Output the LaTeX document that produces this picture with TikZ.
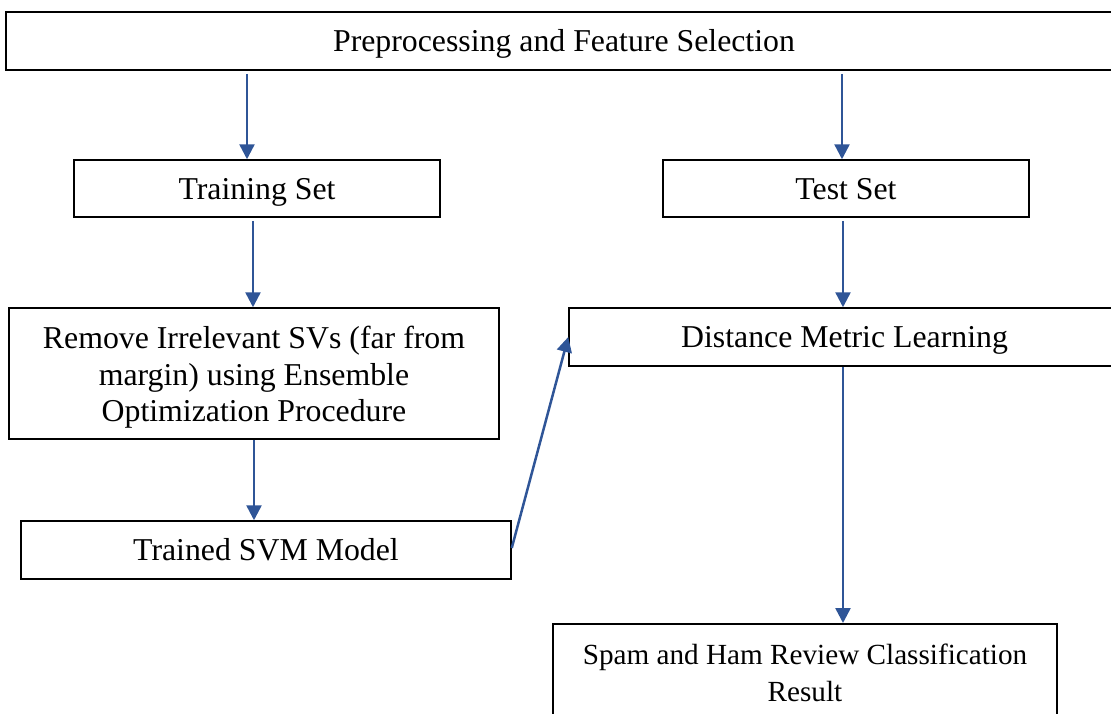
\documentclass[tikz,border=0pt]{standalone}
\usepackage{fontspec}
\setmainfont{Liberation Serif}
\usepackage{tikz}
\usetikzlibrary{arrows.meta,calc}
\definecolor{arrowblue}{RGB}{47,85,151}

\begin{document}
\begin{tikzpicture}[x=1pt,y=-1pt]
\tikzset{
	step box/.style = {rectangle, draw, line width = 1.5pt, inner sep = 0, align = center,
		font = \fontsize{31.8}{36.8}\selectfont},
	one line/.style = {text height = 21pt, text depth = 0pt},
	flow/.style = {draw = arrowblue, line width = 2.5pt, -{Triangle[width=15pt,length=15pt]}},
}

\useasboundingbox (0,0) rectangle (1111,713);
\clip (0,0) rectangle (1111,713);

\node(prep)[step box, one line, minimum width = 1116, minimum height = 58] at (564,41) {Preprocessing and Feature Selection};
\node(train)[step box, one line, minimum width = 366, minimum height = 57] at (257,188.5) {Training Set};
\node(test)[step box, one line, minimum width = 366, minimum height = 57] at (846,188.5) {Test Set};
\node(remove)[step box, minimum width = 490, minimum height = 131] at (254,373.5)
	{\rule{0pt}{30pt}Remove Irrelevant SVs (far from\\ margin) using Ensemble\\ Optimization Procedure};
\node(dml)[step box, one line, minimum width = 551, minimum height = 58] at (844.5,337) {Distance Metric Learning};
\node(svm)[step box, one line, minimum width = 490, minimum height = 58] at (266,550) {Trained SVM Model};
\node(result)[step box, font = \fontsize{29.2}{37}\selectfont, minimum width = 504, inner ysep = 20, anchor = north] at (805,623)
	{Spam and Ham Review Classification\\ Result};

\draw [flow, shorten <= 3pt] ([xshift=-10pt]train.north |- prep.south) -- ([xshift=-10pt]train.north);
\draw [flow, shorten <= 3pt] ([xshift=-4pt]test.north |- prep.south) -- ([xshift=-4pt]test.north);
\draw [flow, shorten <= 3pt] ([xshift=-4pt]train.south) -- ([xshift=-4pt]train.south |- remove.north);
\draw [flow, shorten <= 3pt] ([xshift=-1.5pt]dml.north |- test.south) -- ([xshift=-1.5pt]dml.north);
\draw [flow] (remove.south) -- (remove.south |- svm.north);
\draw [flow] ([yshift=2pt]svm.east) -- (dml.west);
\draw [flow] ([xshift=-1.5pt]dml.south) -- ([xshift=-1.5pt]dml.south |- result.north);

\end{tikzpicture}
\end{document}
